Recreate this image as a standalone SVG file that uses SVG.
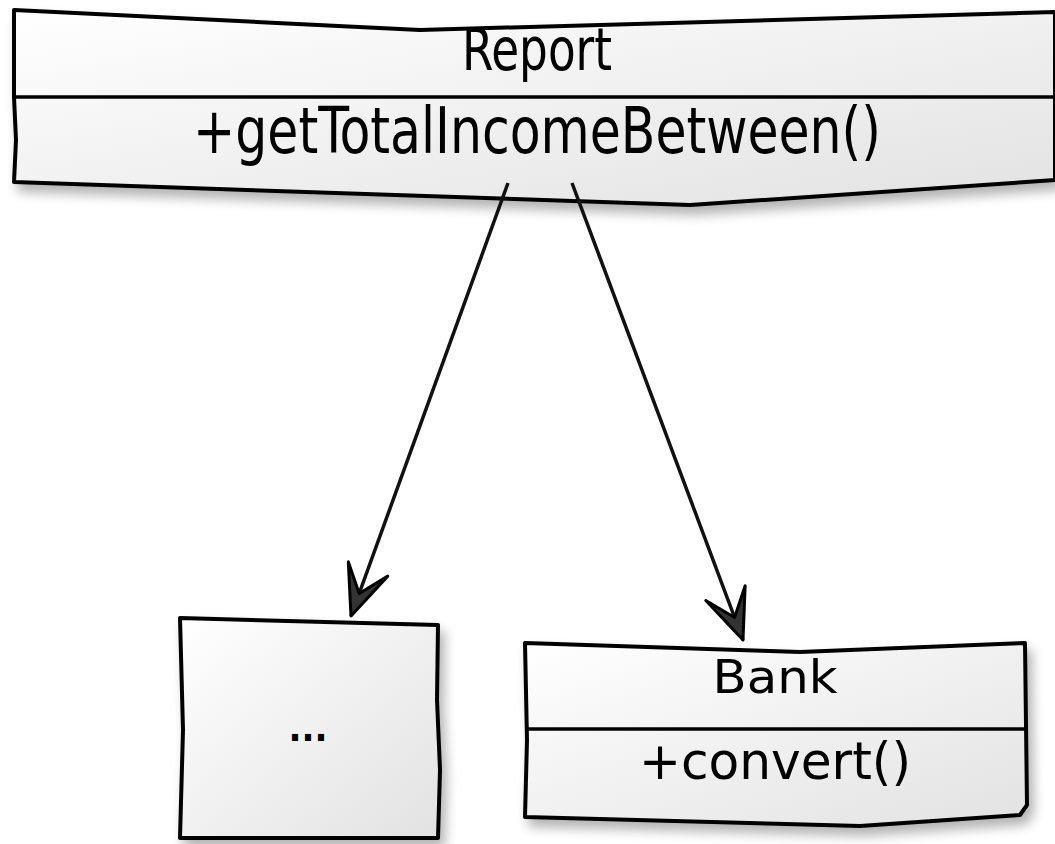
<svg xmlns="http://www.w3.org/2000/svg" width="1055" height="844" viewBox="0 0 1055 844">
<style>
.box{fill:url(#g);stroke:#000;stroke-width:4;stroke-linejoin:round;filter:url(#sh)}
.ln{fill:none;stroke:#000;stroke-width:3.5}
.t{font-family:"DejaVu Sans Condensed","Liberation Sans",sans-serif;fill:#000;text-anchor:middle}
.conn{fill:none;stroke:#111;stroke-width:3.5;marker-end:url(#ah)}
</style>
<defs>
<linearGradient id="g" x1="0" y1="0" x2="1" y2="1">
<stop offset="0" stop-color="#ffffff"/>
<stop offset="1" stop-color="#e2e2e2"/>
</linearGradient>
<filter id="sh" x="-10%" y="-10%" width="130%" height="140%">
<feGaussianBlur in="SourceAlpha" stdDeviation="6"/>
<feOffset dx="5" dy="8" result="b"/>
<feComponentTransfer><feFuncA type="linear" slope="0.3"/></feComponentTransfer>
<feMerge><feMergeNode/><feMergeNode in="SourceGraphic"/></feMerge>
</filter>
<marker id="ah" viewBox="-52 -26 56 52" markerWidth="56" markerHeight="52" refX="0" refY="0" orient="auto" markerUnits="userSpaceOnUse">
<path d="M0,0 L-50,-21 L-24,0 L-50,21 Z" fill="#333" stroke="#000" stroke-width="3" stroke-linejoin="round"/>
</marker>
</defs>
<g id="report">
<path class="box" d="M14,10 L420,30 L1055,12 L1055,180 L690,205 L14,182 L16,140 L14,97 Z"/>
<path class="ln" d="M14,97 L1055,97"/>
<text class="t" x="537" y="70" font-size="58" textLength="150" lengthAdjust="spacingAndGlyphs">Report</text>
<text class="t" x="537" y="153" font-size="64" textLength="688" lengthAdjust="spacingAndGlyphs">+getTotalIncomeBetween()</text>
</g>
<g id="other">
<path class="box" d="M180,618 L438,625 L437,700 L440,770 L438,838 L180,838 L183,730 Z"/>
<text class="t" x="308" y="741" font-size="38" font-weight="bold">...</text>
</g>
<g id="bank">
<path class="box" d="M525,643 L800,652 L1025,643 L1027,805 L1020,815 L860,826 L525,817 L527,740 Z"/>
<path class="ln" d="M525,729 L1025,729"/>
<text class="t" x="775" y="693" font-size="46" textLength="125" lengthAdjust="spacingAndGlyphs">Bank</text>
<text class="t" x="775" y="779" font-size="52" textLength="272" lengthAdjust="spacingAndGlyphs">+convert()</text>
</g>
<g id="connectors">
<path class="conn" d="M508,183 L351,616"/>
<path class="conn" d="M572,183 L743,640"/>
</g>
</svg>
